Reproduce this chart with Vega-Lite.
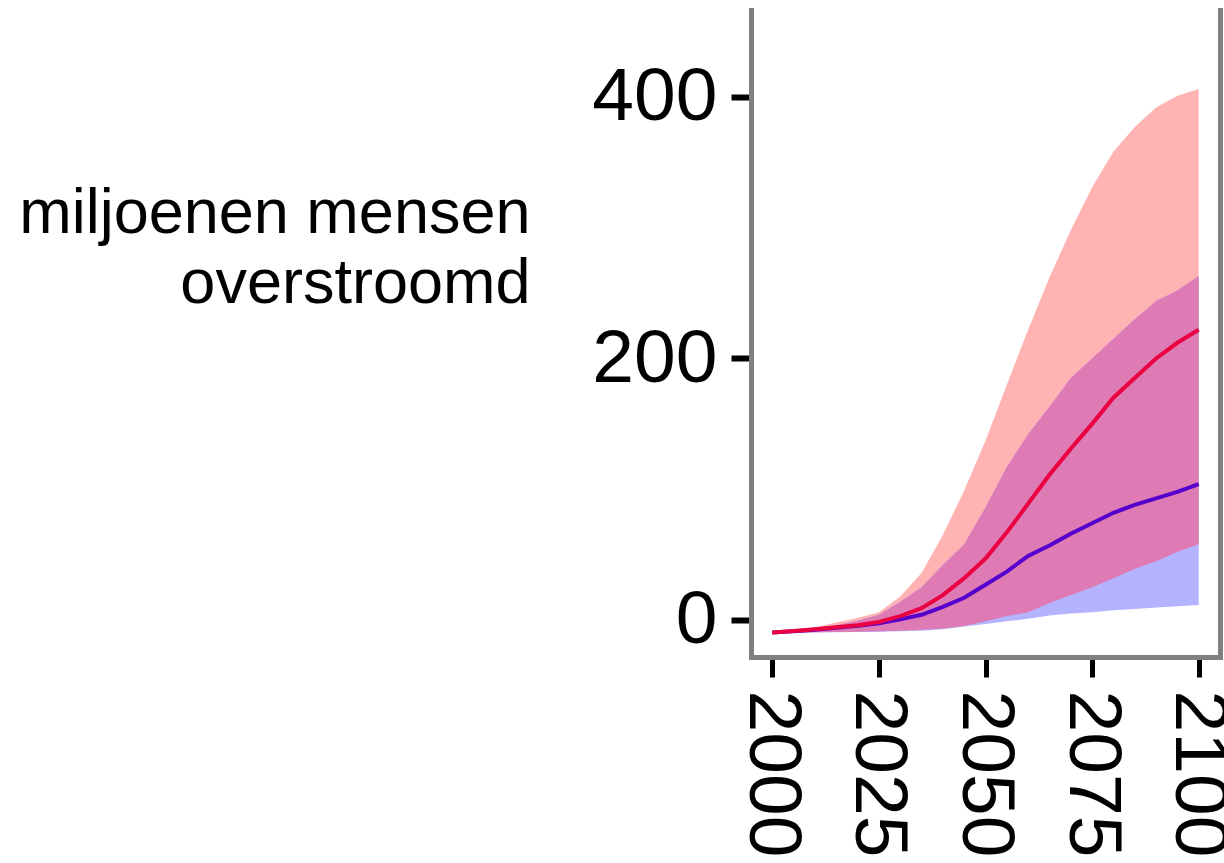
{
  "$schema": "https://vega.github.io/schema/vega-lite/v6.json",
  "autosize": {"type": "none"},
  "padding": {"left": 751, "top": 10, "right": 4, "bottom": 206},
  "width": 469,
  "height": 647,
  "background": "white",
  "config": {"view": {"stroke": null}},
  "data": {
    "values": [
      {"year": 2000, "red_lo": -9.5, "red_mid": -9.5, "red_hi": -9.5, "blue_lo": -9.5, "blue_mid": -9.5, "blue_hi": -9.5},
      {"year": 2005, "red_lo": -9.5, "red_mid": -8.5, "red_hi": -8, "blue_lo": -9.5, "blue_mid": -8.7, "blue_hi": -8.3},
      {"year": 2010, "red_lo": -9.3, "red_mid": -7, "red_hi": -5.5, "blue_lo": -9.4, "blue_mid": -7.5, "blue_hi": -6.5},
      {"year": 2015, "red_lo": -9.2, "red_mid": -5.5, "red_hi": -2, "blue_lo": -9.3, "blue_mid": -6, "blue_hi": -4},
      {"year": 2020, "red_lo": -9, "red_mid": -4, "red_hi": 1.5, "blue_lo": -9.2, "blue_mid": -4.5, "blue_hi": -0.5},
      {"year": 2025, "red_lo": -8.7, "red_mid": -1.5, "red_hi": 6, "blue_lo": -9, "blue_mid": -2.5, "blue_hi": 4},
      {"year": 2030, "red_lo": -8.2, "red_mid": 3, "red_hi": 18, "blue_lo": -8.7, "blue_mid": 0.5, "blue_hi": 14},
      {"year": 2035, "red_lo": -7.5, "red_mid": 9, "red_hi": 36, "blue_lo": -8.2, "blue_mid": 4, "blue_hi": 25},
      {"year": 2040, "red_lo": -6.5, "red_mid": 19, "red_hi": 65, "blue_lo": -7, "blue_mid": 10, "blue_hi": 42},
      {"year": 2045, "red_lo": -4.5, "red_mid": 32, "red_hi": 99, "blue_lo": -5, "blue_mid": 17, "blue_hi": 58},
      {"year": 2050, "red_lo": -1, "red_mid": 47, "red_hi": 137, "blue_lo": -3, "blue_mid": 27, "blue_hi": 86},
      {"year": 2055, "red_lo": 3, "red_mid": 67, "red_hi": 180, "blue_lo": -1, "blue_mid": 37, "blue_hi": 117},
      {"year": 2060, "red_lo": 6, "red_mid": 89, "red_hi": 222, "blue_lo": 1, "blue_mid": 49, "blue_hi": 142},
      {"year": 2065, "red_lo": 13, "red_mid": 111, "red_hi": 262, "blue_lo": 3.5, "blue_mid": 57, "blue_hi": 163},
      {"year": 2070, "red_lo": 19, "red_mid": 131, "red_hi": 298, "blue_lo": 5, "blue_mid": 66, "blue_hi": 185},
      {"year": 2075, "red_lo": 25, "red_mid": 150, "red_hi": 331, "blue_lo": 6, "blue_mid": 74, "blue_hi": 200},
      {"year": 2080, "red_lo": 32, "red_mid": 170, "red_hi": 358, "blue_lo": 7.5, "blue_mid": 82, "blue_hi": 215},
      {"year": 2085, "red_lo": 39, "red_mid": 185, "red_hi": 377, "blue_lo": 8.5, "blue_mid": 88, "blue_hi": 230},
      {"year": 2090, "red_lo": 45, "red_mid": 200, "red_hi": 392, "blue_lo": 9.5, "blue_mid": 93, "blue_hi": 244},
      {"year": 2095, "red_lo": 52, "red_mid": 212, "red_hi": 401, "blue_lo": 10.5, "blue_mid": 98, "blue_hi": 252},
      {"year": 2100, "red_lo": 58, "red_mid": 222, "red_hi": 406, "blue_lo": 11.5, "blue_mid": 104, "blue_hi": 263}
    ]
  },
  "encoding": {
    "x": {
      "field": "year",
      "type": "quantitative",
      "scale": {"domain": [1995, 2105], "nice": false, "zero": false},
      "axis": {
        "values": [2000, 2025, 2050, 2075, 2100],
        "format": "d",
        "title": null,
        "grid": false,
        "domainColor": "#808080",
        "domainWidth": 5,
        "domainCap": "square",
        "tickColor": "black",
        "tickWidth": 5,
        "tickSize": 20,
        "labelAngle": 90,
        "labelAlign": "left",
        "labelBaseline": "middle",
        "labelPadding": 13,
        "labelFont": "Liberation Sans",
        "labelFontSize": 75,
        "labelColor": "black",
        "labelOverlap": false,
        "labelFlush": false
      }
    }
  },
  "layer": [
    {
      "mark": {"type": "area", "color": "#FFB3B3"},
      "encoding": {
        "y": {
          "field": "red_lo",
          "type": "quantitative",
          "scale": {"domain": [-28.3, 466.5], "nice": false, "zero": false},
          "axis": {
            "values": [0, 200, 400],
            "title": ["miljoenen mensen", "overstroomd"],
            "titleAngle": 0,
            "titleAlign": "right",
            "titleBaseline": "alphabetic",
            "titleX": -221,
            "titleY": 222,
            "titleFont": "Liberation Sans",
            "titleFontSize": 63,
            "titleFontWeight": "normal",
            "titleColor": "black",
            "titleLineHeight": 70,
            "grid": false,
            "domainColor": "#808080",
            "domainWidth": 5,
            "domainCap": "square",
            "tickColor": "black",
            "tickWidth": 6,
            "tickSize": 20,
            "labelPadding": 14,
            "labelFont": "Liberation Sans",
            "labelFontSize": 75,
            "labelColor": "black",
            "labelFlush": false,
            "labelOverlap": false
          }
        },
        "y2": {"field": "red_hi"}
      }
    },
    {
      "mark": {"type": "area", "color": "#B3B3FF"},
      "encoding": {
        "y": {"field": "blue_lo", "type": "quantitative", "scale": {"domain": [-28.3, 466.5], "nice": false, "zero": false}, "axis": null},
        "y2": {"field": "blue_hi"}
      }
    },
    {
      "mark": {"type": "area", "color": "#DF7BB4"},
      "encoding": {
        "y": {"field": "red_lo", "type": "quantitative", "scale": {"domain": [-28.3, 466.5], "nice": false, "zero": false}, "axis": null},
        "y2": {"field": "blue_hi"}
      }
    },
    {
      "mark": {"type": "line", "color": "#5500CC", "strokeWidth": 4},
      "encoding": {
        "y": {"field": "blue_mid", "type": "quantitative", "scale": {"domain": [-28.3, 466.5], "nice": false, "zero": false}, "axis": null}
      }
    },
    {
      "mark": {"type": "line", "color": "#EA0040", "strokeWidth": 4},
      "encoding": {
        "y": {"field": "red_mid", "type": "quantitative", "scale": {"domain": [-28.3, 466.5], "nice": false, "zero": false}, "axis": null}
      }
    },
    {
      "mark": {"type": "line", "opacity": 0},
      "encoding": {
        "y": {
          "field": "red_mid",
          "type": "quantitative",
          "scale": {"domain": [-28.3, 466.5], "nice": false, "zero": false},
          "axis": {
            "orient": "right",
            "title": null,
            "labels": false,
            "ticks": false,
            "grid": false,
            "domainColor": "#808080",
            "domainWidth": 5,
            "domainCap": "square"
          }
        }
      }
    }
  ],
  "resolve": {"axis": {"y": "independent"}}
}
